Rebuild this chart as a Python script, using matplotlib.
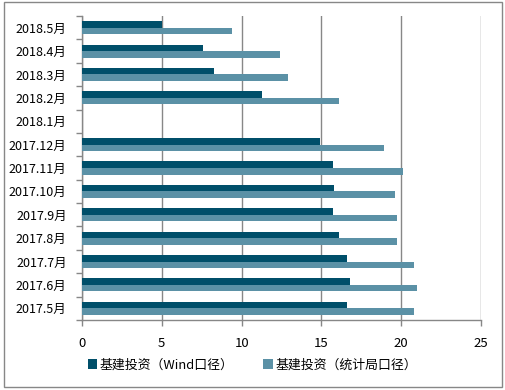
import numpy as np
import matplotlib
matplotlib.use("Agg")
import matplotlib.pyplot as plt
from matplotlib.patches import Rectangle

plt.rcParams['font.family'] = ['Noto Sans CJK SC', 'DejaVu Sans']

# categories listed top to bottom as in the chart
months = ["2018.5月", "2018.4月", "2018.3月", "2018.2月", "2018.1月",
          "2017.12月", "2017.11月", "2017.10月", "2017.9月", "2017.8月",
          "2017.7月", "2017.6月", "2017.5月"]
wind = [5.0, 7.6, 8.3, 11.3, np.nan, 14.9, 15.75, 15.8, 15.75, 16.1, 16.6, 16.8, 16.6]
stats = [9.4, 12.4, 12.9, 16.1, np.nan, 18.9, 20.1, 19.6, 19.75, 19.75, 20.8, 21.0, 20.8]
series_names = ["基建投资（Wind口径）", "基建投资（统计局口径）"]
x_ticks = [0, 5, 10, 15, 20, 25]

dark = "#004F6A"
light = "#5B91A6"
grid_c = "#878787"

fig = plt.figure(figsize=(5.05, 3.9), dpi=100)
ax = fig.add_axes([82 / 505, 1 - 320 / 390, (481 - 82) / 505, (320 - 16) / 390])

y = np.arange(len(months))
h = 0.28
ax.barh(y - h / 2, wind, height=h, color=dark, label=series_names[0], zorder=3)
ax.barh(y + h / 2, stats, height=h, color=light, label=series_names[1], zorder=3)

ax.set_ylim(len(months) - 0.5, -0.5)
ax.set_xlim(0, 25)
ax.set_xticks(x_ticks)
ax.set_xticklabels([str(t) for t in x_ticks], fontsize=9.5)
ax.set_yticks(y)
ax.set_yticklabels(months, fontsize=9)
ax.set_yticks(np.arange(-0.5, len(months)), minor=True)
ax.tick_params(axis="y", which="major", length=0, pad=11)
ax.tick_params(axis="y", which="minor", length=4, color=grid_c, width=1)
ax.tick_params(axis="x", length=4, color=grid_c, width=1, pad=8)

ax.grid(axis="x", color=grid_c, linewidth=1, zorder=0)
for s in ["top", "right"]:
    ax.spines[s].set_visible(False)
for s in ["left", "bottom"]:
    ax.spines[s].set_color(grid_c)
    ax.spines[s].set_linewidth(1)

fig.legend(loc="center", bbox_to_anchor=(0.5, 1 - 365 / 390), ncol=2, frameon=False,
           fontsize=9.3, handlelength=0.7, handleheight=0.7, handletextpad=0.2,
           columnspacing=2.3)

fig.patches.append(Rectangle((4 / 505, 1 - 387 / 390), 498 / 505, 385 / 390,
                             transform=fig.transFigure, fill=False,
                             edgecolor=grid_c, linewidth=1))

fig.savefig("out.png", dpi=100)
